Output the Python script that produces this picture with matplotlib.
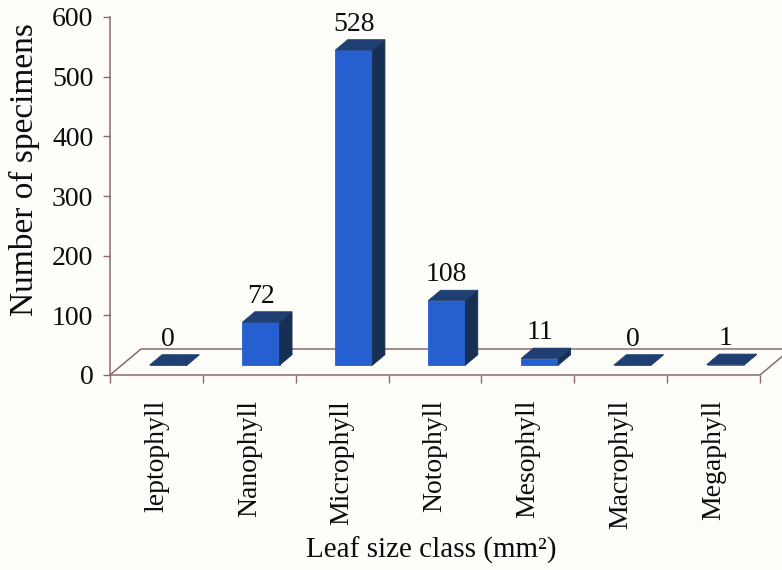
import matplotlib.pyplot as plt
from matplotlib.patches import Polygon

classes = ["leptophyll", "Nanophyll", "Microphyll", "Notophyll",
           "Mesophyll", "Macrophyll", "Megaphyll"]
counts = [0, 72, 528, 108, 11, 0, 1]
y_ticks = [0, 100, 200, 300, 400, 500, 600]

plt.rcParams['font.family'] = ['Liberation Serif', 'DejaVu Serif']

bg = '#fdfdf9'
line_col = '#8c6a6a'
front_col = '#2660d0'
side_col = '#172f52'
top_col = '#1f3f72'
txt = '#0d0d0d'

fig = plt.figure(figsize=(7.82, 5.70), dpi=100, facecolor=bg)
ax = fig.add_axes([110 / 782, 1 - 375 / 570, 650 / 782, 358 / 570])
ax.set_facecolor('none')
n = len(classes)
ax.set_xlim(0, n)
ax.set_ylim(0, 600)

# fake 3d: depth of the floor in data units, bars sit between f0 and f1 of it
ddx, ddy = 0.334, 43.6
f0, f1 = 0.38, 0.78
bw = 0.40

floor = Polygon([(0, 0), (n, 0), (n + ddx, ddy), (ddx, ddy)], closed=True,
                fill=False, ec=line_col, lw=1.1, clip_on=False, zorder=1)
ax.add_patch(floor)

for i, v in enumerate(counts):
    x0 = i + 0.5 - bw / 2 + f0 * ddx
    x1 = x0 + bw
    y0 = f0 * ddy
    y1 = y0 + v
    sx, sy = (f1 - f0) * ddx, (f1 - f0) * ddy
    front = [(x0, y0), (x1, y0), (x1, y1), (x0, y1)]
    side = [(x1, y0), (x1 + sx, y0 + sy), (x1 + sx, y1 + sy), (x1, y1)]
    top = [(x0, y1), (x1, y1), (x1 + sx, y1 + sy), (x0 + sx, y1 + sy)]
    for pts, c in ((front, front_col), (side, side_col), (top, top_col)):
        ax.add_patch(Polygon(pts, closed=True, fc=c, ec=c, lw=0.6,
                             clip_on=False, zorder=3))
    ax.annotate(str(v), xy=(i + 0.5 + f0 * ddx, y1 + sy),
                xytext=(0, 2), textcoords='offset points',
                ha='center', va='bottom', fontsize=20, color=txt)

for s in ('top', 'right', 'bottom'):
    ax.spines[s].set_visible(False)
ax.spines['left'].set_color(line_col)
ax.spines['left'].set_linewidth(1.1)

ax.set_yticks(y_ticks)
ax.tick_params(axis='y', length=5, width=1, color=line_col,
               labelsize=20, pad=7, labelcolor=txt)

ax.set_xticks([i + 0.5 for i in range(n)])
ax.set_xticklabels(classes, rotation=90, fontsize=20, color=txt)
ax.set_xticks(range(n + 1), minor=True)
ax.tick_params(axis='x', which='major', length=0, pad=18)
ax.tick_params(axis='x', which='minor', length=6, width=1, color=line_col)

fig.text(24 / 782, 1 - 170 / 570, "Number of specimens", rotation=90,
         ha='center', va='center', fontsize=24, color=txt)
fig.text(431 / 782, 1 - 550 / 570, "Leaf size class (mm²)",
         ha='center', va='center', fontsize=21, color=txt)

fig.savefig("out.png", dpi=100, facecolor=bg)
